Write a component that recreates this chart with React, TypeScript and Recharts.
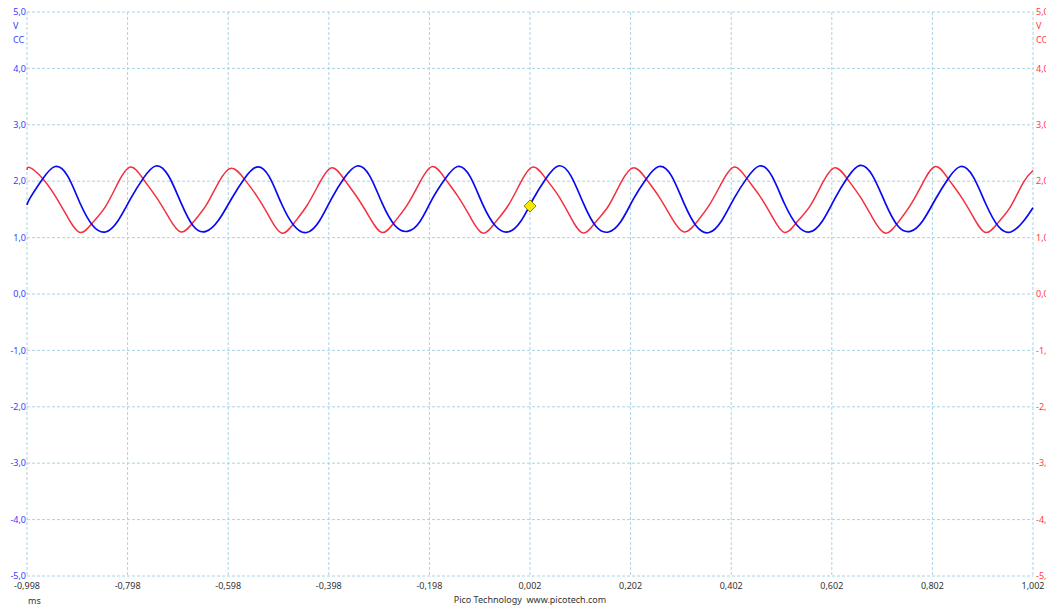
import { LineChart, Line, XAxis, YAxis, CartesianGrid, ReferenceDot } from 'recharts'

// sample times (ms)
const TIMES = [
  -0.998,
  -0.992, -0.967, -0.942, -0.917, -0.892, -0.867, -0.842, -0.817,
  -0.792, -0.767, -0.742, -0.717, -0.692, -0.667, -0.642, -0.617,
  -0.592, -0.567, -0.542, -0.517, -0.492, -0.467, -0.442, -0.417,
  -0.392, -0.367, -0.342, -0.317, -0.292, -0.267, -0.242, -0.217,
  -0.192, -0.167, -0.142, -0.117, -0.092, -0.067, -0.042, -0.017,
  0.008, 0.033, 0.058, 0.083, 0.108, 0.133, 0.158, 0.183,
  0.208, 0.233, 0.258, 0.283, 0.308, 0.333, 0.358, 0.383,
  0.408, 0.433, 0.458, 0.483, 0.508, 0.533, 0.558, 0.583,
  0.608, 0.633, 0.658, 0.683, 0.708, 0.733, 0.758, 0.783,
  0.808, 0.833, 0.858, 0.883, 0.908, 0.933, 0.958, 0.983,
  1.002,
]

// channel A (blue), volts
const BLUE = [
  1.58,
  1.7, 2.04, 2.26, 2.09, 1.6, 1.21, 1.1, 1.3,
  1.69, 2.05, 2.27, 2.1, 1.62, 1.2, 1.11, 1.31,
  1.68, 2.03, 2.25, 2.09, 1.6, 1.21, 1.09, 1.29,
  1.7, 2.06, 2.27, 2.1, 1.61, 1.22, 1.11, 1.28,
  1.69, 2.04, 2.26, 2.08, 1.59, 1.21, 1.1, 1.28,
  1.68, 2.04, 2.27, 2.1, 1.61, 1.2, 1.1, 1.29,
  1.69, 2.04, 2.26, 2.1, 1.61, 1.2, 1.09, 1.3,
  1.7, 2.05, 2.27, 2.09, 1.6, 1.22, 1.1, 1.29,
  1.69, 2.06, 2.28, 2.1, 1.62, 1.21, 1.11, 1.3,
  1.68, 2.04, 2.26, 2.08, 1.6, 1.2, 1.1, 1.29,
  1.53,
]

// channel B (red), volts
const RED = [
  2.2,
  2.24, 2.05, 1.74, 1.36, 1.09, 1.27, 1.55, 1.97,
  2.25, 2.04, 1.73, 1.37, 1.1, 1.28, 1.57, 1.98,
  2.23, 2.05, 1.75, 1.38, 1.08, 1.26, 1.56, 1.96,
  2.24, 2.03, 1.72, 1.36, 1.09, 1.28, 1.58, 1.98,
  2.26, 2.05, 1.74, 1.37, 1.08, 1.27, 1.56, 1.97,
  2.25, 2.05, 1.75, 1.36, 1.08, 1.28, 1.56, 1.98,
  2.24, 2.04, 1.73, 1.36, 1.1, 1.27, 1.57, 1.97,
  2.25, 2.05, 1.75, 1.38, 1.09, 1.28, 1.55, 1.96,
  2.24, 2.04, 1.73, 1.35, 1.08, 1.26, 1.57, 1.97,
  2.26, 2.05, 1.74, 1.37, 1.09, 1.27, 1.56, 1.98,
  2.19,
]

const X_TICKS = [-0.998, -0.798, -0.598, -0.398, -0.198, 0.002, 0.202, 0.402, 0.602, 0.802, 1.002]
const Y_TICKS = [-5, -4, -3, -2, -1, 0, 1, 2, 3, 4, 5]

const TRIGGER_T = 0.002
const TRIGGER_V = 1.56

const data = TIMES.map((t, i) => ({ t, blue: BLUE[i], red: RED[i] }))

const FONT = '"Noto Sans", "DejaVu Sans", sans-serif'
const BLUE_TXT = '#3a3aff'
const RED_TXT = '#ff3b3b'
const GRID = '#a8d4e4'

const comma = (v: number, d: number) => v.toFixed(d).replace('.', ',')

const Diamond = (props: any) => {
  const { cx, cy } = props
  const s = 6
  return (
    <polygon
      points={`${cx},${cy - s} ${cx + s},${cy} ${cx},${cy + s} ${cx - s},${cy}`}
      fill="#f5ea00"
      stroke="#8c8a00"
      strokeWidth={1}
    />
  )
}

// right-hand (channel B) scale, drawn just right of the plot
const RightTick = (props: any) => {
  const { x, y, payload } = props
  return (
    <text x={x + 3} y={y} dy="0.355em" textAnchor="start" fontSize={9} fill={RED_TXT} fontFamily={FONT}>
      {comma(payload.value, 1)}
    </text>
  )
}

const txt = (color: string): React.CSSProperties => ({
  position: 'absolute',
  fontFamily: FONT,
  fontSize: 9,
  lineHeight: '10px',
  color,
  whiteSpace: 'nowrap',
})

export default function App() {
  return (
    <div style={{ position: 'relative', width: 1046, height: 606, background: '#fff', overflow: 'hidden' }}>
      <style>{'body{margin:0}'}</style>
      <LineChart width={1046} height={606} data={data} margin={{ top: 12, right: 0, left: 0, bottom: 0 }}>
        <CartesianGrid yAxisId="left" stroke={GRID} strokeDasharray="3 2" />
        <XAxis
          dataKey="t"
          type="number"
          domain={[-0.998, 1.002]}
          ticks={X_TICKS}
          interval={0}
          height={30}
          axisLine={false}
          tickLine={false}
          tickSize={0}
          tickMargin={7}
          tick={{ fontSize: 9, fill: '#333', fontFamily: FONT }}
          tickFormatter={(v: number) => comma(v, 3)}
        />
        <YAxis
          yAxisId="left"
          domain={[-5, 5]}
          ticks={Y_TICKS}
          interval={0}
          width={27}
          axisLine={false}
          tickLine={false}
          tickSize={0}
          tickMargin={1}
          tick={{ fontSize: 9, fill: BLUE_TXT, fontFamily: FONT }}
          tickFormatter={(v: number) => comma(v, 1)}
        />
        <YAxis
          yAxisId="right"
          orientation="right"
          domain={[-5, 5]}
          ticks={Y_TICKS}
          interval={0}
          width={13}
          axisLine={false}
          tickLine={false}
          tickSize={0}
          tickMargin={0}
          tick={<RightTick />}
        />
        <Line yAxisId="right" type="natural" dataKey="red" stroke="#f3303e" strokeWidth={1.5} dot={false} isAnimationActive={false} />
        <Line yAxisId="left" type="natural" dataKey="blue" stroke="#0a0af0" strokeWidth={1.7} dot={false} isAnimationActive={false} />
        <ReferenceDot yAxisId="left" x={TRIGGER_T} y={TRIGGER_V} shape={Diamond} />
      </LineChart>

      {/* channel unit labels */}
      <div style={{ ...txt(BLUE_TXT), left: 13, top: 21 }}>V</div>
      <div style={{ ...txt(BLUE_TXT), left: 13, top: 35 }}>CC</div>
      <div style={{ ...txt(RED_TXT), left: 1036, top: 21 }}>V</div>
      <div style={{ ...txt(RED_TXT), left: 1036, top: 35 }}>CC</div>

      <div style={{ ...txt('#333'), left: 28, top: 596 }}>ms</div>
      <div style={{ ...txt('#333'), left: 0, width: 1060, top: 595, textAlign: 'center' }}>Pico Technology&nbsp;&nbsp;www.picotech.com</div>
    </div>
  )
}
